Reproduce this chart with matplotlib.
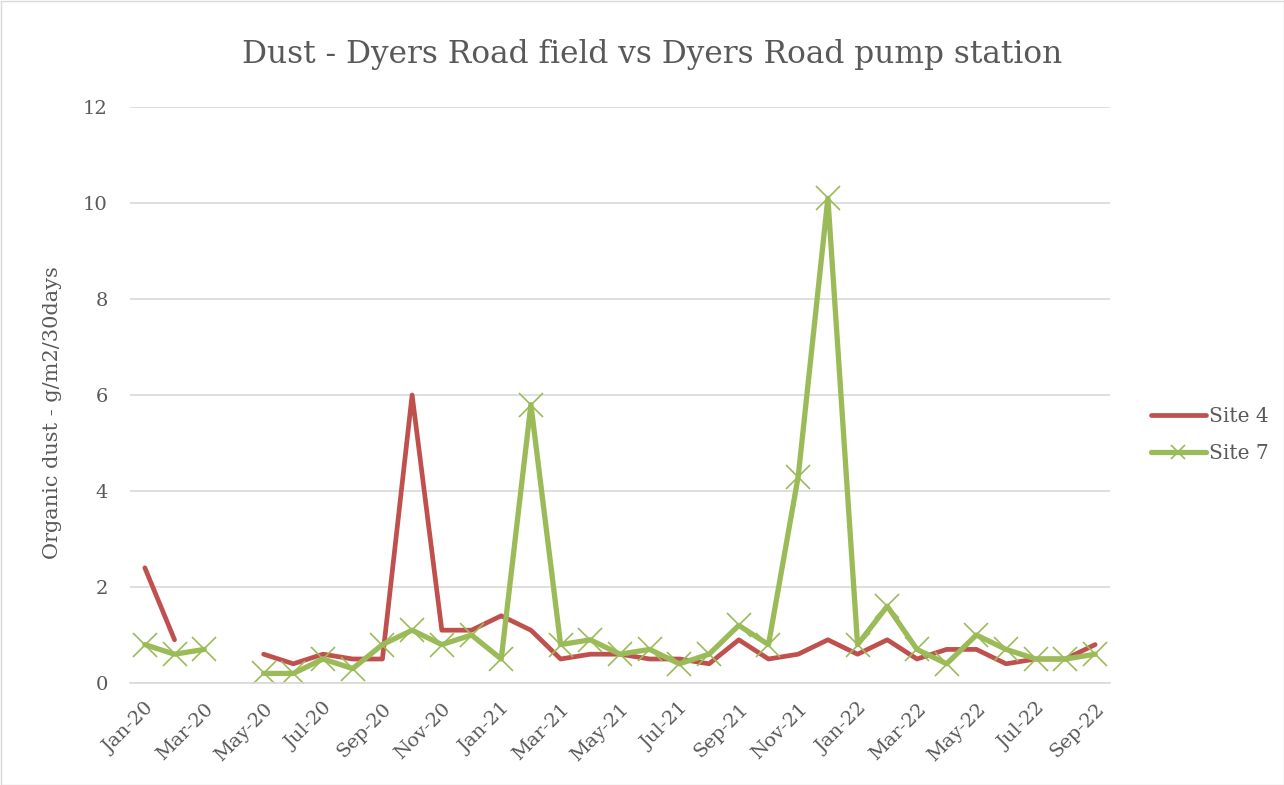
import matplotlib
matplotlib.use("Agg")
import matplotlib.pyplot as plt
import numpy as np
from matplotlib.patches import Rectangle

# Monthly samples, Jan-20 .. Sep-22 (nan = no sample)
months = ['Jan-20', 'Feb-20', 'Mar-20', 'Apr-20', 'May-20', 'Jun-20', 'Jul-20', 'Aug-20',
          'Sep-20', 'Oct-20', 'Nov-20', 'Dec-20', 'Jan-21', 'Feb-21', 'Mar-21', 'Apr-21',
          'May-21', 'Jun-21', 'Jul-21', 'Aug-21', 'Sep-21', 'Oct-21', 'Nov-21', 'Dec-21',
          'Jan-22', 'Feb-22', 'Mar-22', 'Apr-22', 'May-22', 'Jun-22', 'Jul-22', 'Aug-22',
          'Sep-22']
site4 = [2.4, 0.9, np.nan, np.nan, 0.6, 0.4, 0.6, 0.5,
         0.5, 6.0, 1.1, 1.1, 1.4, 1.1, 0.5, 0.6,
         0.6, 0.5, 0.5, 0.4, 0.9, 0.5, 0.6, 0.9,
         0.6, 0.9, 0.5, 0.7, 0.7, 0.4, 0.5, 0.5,
         0.8]
site7 = [0.8, 0.6, 0.7, np.nan, 0.2, 0.2, 0.5, 0.3,
         0.8, 1.1, 0.8, 1.0, 0.5, 5.8, 0.8, 0.9,
         0.6, 0.7, 0.4, 0.6, 1.2, 0.8, 4.3, 10.1,
         0.8, 1.6, 0.7, 0.4, 1.0, 0.7, 0.5, 0.5,
         0.6]
yticks = [0, 2, 4, 6, 8, 10, 12]

plt.rcParams['font.family'] = ['DejaVu Serif']
text_col = '#595959'

fig = plt.figure(figsize=(12.84, 7.85), dpi=100)
ax = fig.add_axes([130 / 1284, 1 - 683 / 785, 980 / 1284, 576 / 785])

x = np.arange(len(months))
ax.plot(x, site4, color='#C0504D', lw=3.4, label='Site 4', solid_joinstyle='round',
        solid_capstyle='round')
ax.plot(x, site7, color='#9BBB59', lw=3.8, marker='x', markersize=17,
        markeredgewidth=1.2, label='Site 7', solid_capstyle='round')

ax.set_xlim(-0.5, len(months) - 0.5)
ax.set_ylim(0, 12)
ax.set_yticks(yticks)
ax.set_xticks(x[::2])
ax.set_xticklabels(months[::2], rotation=45, ha='right', rotation_mode='anchor')
ax.tick_params(axis='both', length=0, colors=text_col, labelsize=14)
ax.tick_params(axis='y', pad=16)
ax.tick_params(axis='x', pad=12)
ax.grid(axis='y', color='#d9d9d9', lw=1.2)
ax.set_axisbelow(True)
for s in ['top', 'right', 'left']:
    ax.spines[s].set_visible(False)
ax.spines['bottom'].set_color('#d9d9d9')
ax.spines['bottom'].set_linewidth(1.2)

ax.set_ylabel('Organic dust - g/m2/30days', color=text_col, fontsize=15)
ax.yaxis.set_label_coords(-68 / 980, 0.47)
fig.text(652 / 1284, 1 - 55 / 785, 'Dust - Dyers Road field vs Dyers Road pump station',
         ha='center', va='center', color=text_col, fontsize=22.5)

leg = fig.legend(loc='center left', bbox_to_anchor=(1133 / 1284, 1 - 435 / 785),
                 frameon=False, fontsize=14.5, handlelength=2.7, handletextpad=0.15,
                 labelspacing=0.9, markerscale=0.6)
for t in leg.get_texts():
    t.set_color(text_col)

fig.patches.append(Rectangle((0.5 / 1284, 0.5 / 785), 1 - 1 / 1284, 1 - 1 / 785,
                             transform=fig.transFigure, fill=False,
                             edgecolor='#d9d9d9', lw=1))

fig.savefig('out.png', dpi=100)
